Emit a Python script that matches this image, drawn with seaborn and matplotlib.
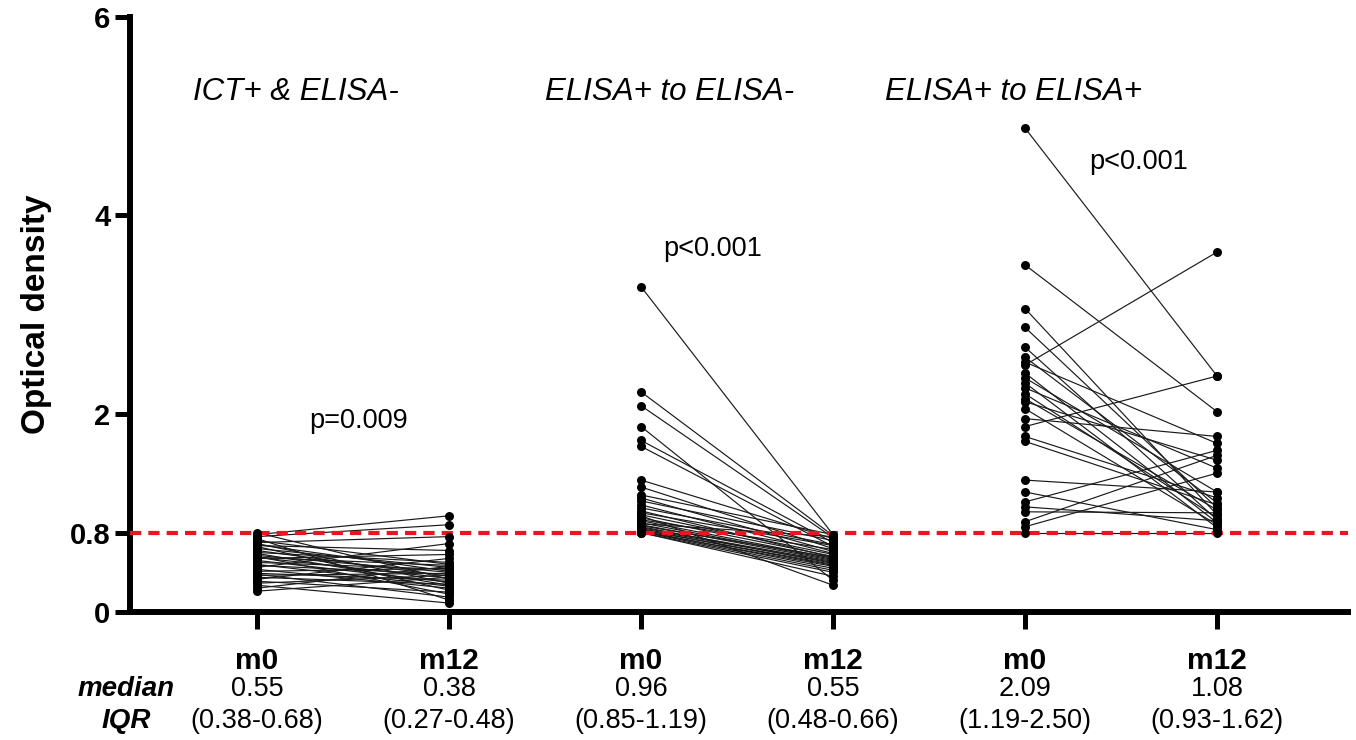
import matplotlib
matplotlib.use("Agg")
import matplotlib.pyplot as plt
import numpy as np
import pandas as pd
import seaborn as sns

# ---- data -------------------------------------------------------------
cohorts = ["ICT+ & ELISA-", "ELISA+ to ELISA-", "ELISA+ to ELISA+"]
visits = ["m0", "m12"]

# paired optical densities (same index = same subject)
ict_m0 = [0.80, 0.78, 0.76, 0.74, 0.72, 0.70, 0.69, 0.68, 0.67, 0.66, 0.64, 0.62,
          0.60, 0.59, 0.57, 0.56, 0.55, 0.55, 0.54, 0.52, 0.50, 0.48, 0.47, 0.45,
          0.43, 0.41, 0.39, 0.38, 0.37, 0.35, 0.33, 0.31, 0.29, 0.27, 0.24, 0.21]
ict_m12 = [0.33, 0.97, 0.88, 0.12, 0.48, 0.76, 0.29, 0.41, 0.62, 0.22, 0.45, 0.36,
           0.50, 0.27, 0.40, 0.18, 0.47, 0.34, 0.58, 0.30, 0.43, 0.26, 0.38, 0.69,
           0.24, 0.44, 0.32, 0.15, 0.39, 0.28, 0.54, 0.20, 0.37, 0.09, 0.46, 0.35]

neg_m0 = [3.28, 2.22, 2.08, 1.87, 1.73, 1.67, 1.33, 1.26, 1.18, 1.15, 1.12, 1.08,
          1.05, 1.02, 1.00, 0.98, 0.97, 0.95, 0.93, 0.92, 0.90, 0.89, 0.88, 0.87,
          0.86, 0.85, 0.84, 0.83, 0.83, 0.82, 0.81, 0.81, 0.80, 0.80]
neg_m12 = [0.78, 0.77, 0.75, 0.32, 0.70, 0.66, 0.74, 0.64, 0.78, 0.61, 0.72, 0.59,
           0.68, 0.55, 0.67, 0.58, 0.27, 0.56, 0.63, 0.54, 0.53, 0.76, 0.52, 0.55,
           0.49, 0.51, 0.50, 0.47, 0.48, 0.44, 0.46, 0.42, 0.40, 0.36]

pos_m0 = [4.88, 3.50, 3.06, 2.87, 2.67, 2.57, 2.52, 2.49, 2.41, 2.36, 2.31, 2.26,
          2.20, 2.15, 2.12, 2.05, 1.95, 1.87, 1.77, 1.72, 1.33, 1.21, 1.11, 1.06,
          1.01, 0.91, 0.86, 0.80]
pos_m12 = [2.38, 2.02, 0.98, 1.05, 0.93, 1.10, 1.70, 3.63, 0.90, 1.21, 0.85, 1.45,
           0.95, 1.03, 1.53, 0.88, 1.77, 2.38, 1.15, 1.08, 1.21, 0.83, 1.63, 0.92,
           1.00, 1.58, 1.40, 0.80]

medians = ["0.55", "0.38", "0.96", "0.55", "2.09", "1.08"]
iqrs = ["(0.38-0.68)", "(0.27-0.48)", "(0.85-1.19)", "(0.48-0.66)",
        "(1.19-2.50)", "(0.93-1.62)"]
p_values = ["p=0.009", "p<0.001", "p<0.001"]
cutoff = 0.8
y_ticks = [0, 0.8, 2, 4, 6]

# ---- long-form table -------------------------------------------------
rows = []
sid = 0
for ci, (a, b) in enumerate([(ict_m0, ict_m12), (neg_m0, neg_m12), (pos_m0, pos_m12)]):
    for v0, v1 in zip(a, b):
        for vi, val in enumerate((v0, v1)):
            rows.append({"subject": sid, "cohort": cohorts[ci], "visit": visits[vi],
                         "slot": ci * len(visits) + vi, "od": val})
        sid += 1
df = pd.DataFrame(rows)

# ---- figure ----------------------------------------------------------
sns.set_theme(style="white")
plt.rcParams["font.family"] = ["Liberation Sans", "DejaVu Sans"]
plt.rcParams["text.color"] = "black"
plt.rcParams["axes.labelcolor"] = "black"

fig = plt.figure(figsize=(13.56, 7.40), dpi=100)
ax = fig.add_axes([0.0959, 0.1730, 0.8982, 0.8040])

sns.lineplot(data=df, x="slot", y="od", units="subject", estimator=None,
             color="#1a1a1a", linewidth=0.85, ax=ax, zorder=2, legend=False)
ax.axhline(cutoff, color="#e8161e", linewidth=3.0, dashes=(2.7, 1.7), zorder=3)
sns.scatterplot(data=df, x="slot", y="od", color="black", s=42, linewidth=0,
                ax=ax, zorder=4, legend=False)

ax.set_xlim(-0.6615, 5.682)
ax.set_ylim(0, 6)
ax.set_yticks(y_ticks)
ax.set_yticklabels(["0", "0.8", "2", "4", "6"])
slots = np.arange(len(cohorts) * len(visits))
ax.set_xticks(slots)
ax.set_xticklabels(visits * len(cohorts))

for s in ("top", "right"):
    ax.spines[s].set_visible(False)
for s in ("left", "bottom"):
    ax.spines[s].set_linewidth(4.3)
    ax.spines[s].set_color("black")
    ax.spines[s].set_capstyle("projecting")

ax.tick_params(axis="y", length=11, width=3.6, pad=3, labelsize=21, colors="black")
ax.tick_params(axis="x", length=12, width=3.6, pad=13, labelsize=21.5, colors="black")
ax.tick_params(axis="both", which="both", left=True, bottom=True, direction="out")
for lab in ax.get_yticklabels() + ax.get_xticklabels():
    lab.set_fontweight("bold")

ax.set_xlabel("")
ax.set_ylabel("Optical density", fontsize=24, fontweight="bold", labelpad=13,
              color="black")

# cohort titles and test results
title_x = [0.20, 2.15, 3.94]
for tx, name in zip(title_x, cohorts):
    ax.text(tx, 5.24, name, fontsize=22.5, style="italic", ha="center", va="center",
            color="black")
p_pos = [(0.53, 1.93), (2.375, 3.66), (4.59, 4.54)]
for (px, py), txt in zip(p_pos, p_values):
    ax.text(px, py, txt, fontsize=19.5, ha="center", va="center", color="black")

# median / IQR rows under the axis
xa = ax.get_xaxis_transform()
for sx, med, iq in zip(slots, medians, iqrs):
    ax.text(sx, -0.129, med, transform=xa, fontsize=19.5, ha="center", va="center",
            color="black")
    ax.text(sx, -0.183, iq, transform=xa, fontsize=19.5, ha="center", va="center",
            color="black")
ax.text(-0.68, -0.129, "median", transform=xa, fontsize=20, fontweight="bold",
        style="italic", ha="center", va="center", color="black")
ax.text(-0.68, -0.183, "IQR", transform=xa, fontsize=20, fontweight="bold",
        style="italic", ha="center", va="center", color="black")

fig.savefig("out.png", dpi=100)
